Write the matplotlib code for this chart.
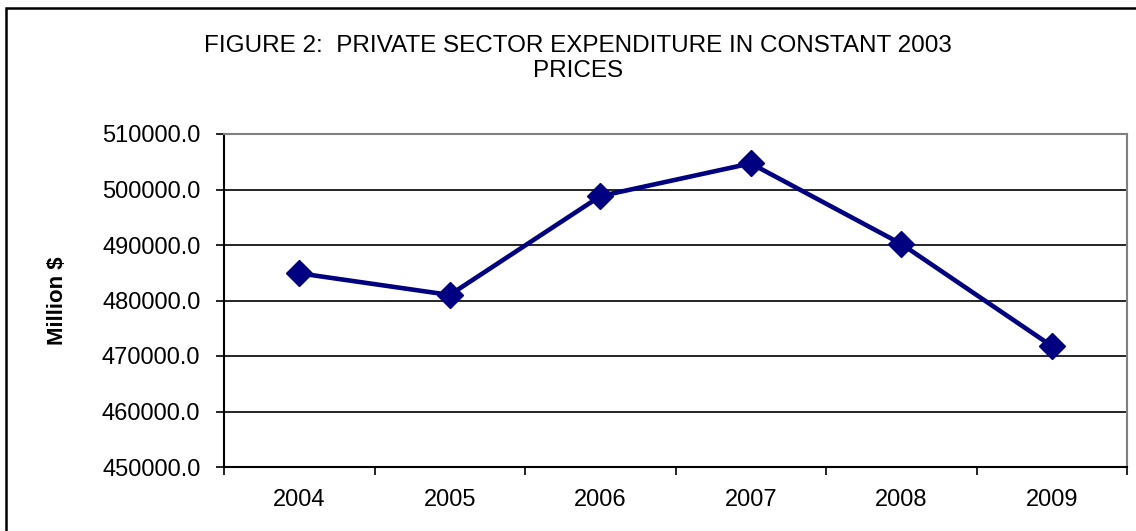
import matplotlib.pyplot as plt
from matplotlib.patches import Rectangle

plt.rcParams['font.family'] = ['Liberation Sans', 'DejaVu Sans']

years = ['2004', '2005', '2006', '2007', '2008', '2009']
expenditure = [484900, 481000, 498800, 504700, 490200, 471800]
y_ticks = [450000, 460000, 470000, 480000, 490000, 500000, 510000]

W, H = 1136, 531
fig = plt.figure(figsize=(W / 100, H / 100), dpi=100)

# chart frame
fig.patches.append(Rectangle((6 / W, -0.1), 1.2, 1.1 - 8 / H, transform=fig.transFigure,
                             fill=False, edgecolor='black', linewidth=1.8))

ax = fig.add_axes([224 / W, 1 - 467 / H, (1127 - 224) / W, (467 - 134) / H])
x = list(range(len(years)))
ax.plot(x, expenditure, color='#000080', linewidth=3.3, marker='D', markersize=13,
        markeredgecolor='#000080', markerfacecolor='#000080', zorder=3)

ax.set_xlim(-0.5, len(years) - 0.5)
ax.set_ylim(450000, 510000)
ax.set_yticks(y_ticks)
ax.set_yticklabels([f'{v:.1f}' for v in y_ticks], fontsize=17)
ax.set_xticks(x)
ax.set_xticklabels(years, fontsize=17)
ax.set_xticks([i - 0.5 for i in range(len(years) + 1)], minor=True)
ax.tick_params(axis='x', which='major', length=0, pad=16)
ax.tick_params(axis='x', which='minor', length=6, width=1.2, direction='out')
ax.tick_params(axis='y', length=6, width=1.2, direction='out', pad=11)

ax.grid(axis='y', color='black', linewidth=1.2)
ax.set_axisbelow(True)
for side in ['top', 'right']:
    ax.spines[side].set_color('#808080')
    ax.spines[side].set_linewidth(1.5)
for side in ['left', 'bottom']:
    ax.spines[side].set_color('black')
    ax.spines[side].set_linewidth(1.5)

ax.set_ylabel('Million $', fontsize=16, fontweight='bold')
ax.yaxis.set_label_coords((68 - 224) / (1127 - 224), 0.5)

fig.text(578 / W, 1 - 46 / H, 'FIGURE 2:  PRIVATE SECTOR EXPENDITURE IN CONSTANT 2003',
         ha='center', va='center', fontsize=17.5)
fig.text(578 / W, 1 - 71 / H, 'PRICES', ha='center', va='center', fontsize=17.5)

fig.savefig('out.png', dpi=100)
